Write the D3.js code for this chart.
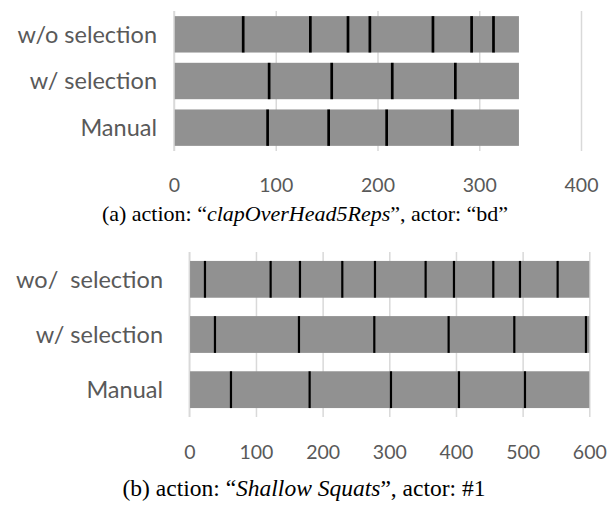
<!DOCTYPE html>
<html>
<head>
<meta charset="utf-8">
<script src="https://cdn.jsdelivr.net/npm/d3@7"></script>
<style>
  html, body { margin: 0; padding: 0; background: #fff; }
  svg { display: block; }
</style>
</head>
<body>
<svg id="fig" width="610" height="511"></svg>
<script>
// ---- Panel (a): clapOverHead5Reps, actor "bd" ----
const rowsA = ["w/o selection", "w/ selection", "Manual"];
const lengthA = [339, 339, 339];
const cutsA_wo = [68, 134, 171, 192.5, 254.5, 292.5, 314];
const cutsA_w = [93.5, 155, 214.5, 276.5];
const cutsA_manual = [92, 152, 209, 273.5];
const ticksA = [0, 100, 200, 300, 400];
const captionA = ["(a) action: \u201c", "clapOverHead5Reps", "\u201d, actor: \u201cbd\u201d"];

// ---- Panel (b): Shallow Squats, actor #1 ----
const rowsB = ["wo/  selection", "w/ selection", "Manual"];
const lengthB = [600, 600, 600];
const cutsB_wo = [23.5, 122, 166, 229.5, 278.5, 354.5, 397, 456, 496, 552.5];
const cutsB_w = [38.5, 164.5, 277.5, 389, 487.5, 595];
const cutsB_manual = [62.5, 180.5, 302.5, 404.5, 503.5];
const ticksB = [0, 100, 200, 300, 400, 500, 600];
const captionB = ["(b) action: \u201c", "Shallow Squats", "\u201d, actor: #1"];

const svg = d3.select("#fig");
const labelFont = "Lato, 'Open Sans', sans-serif";
const textGray = "#595959";

function panel(cfg) {
  const g = svg.append("g");
  const x = d3.scaleLinear().domain(cfg.domain).range(cfg.xRange);
  const y = d3.scaleBand().domain(cfg.rows).range(cfg.yRange)
    .paddingInner(cfg.padIn).paddingOuter(cfg.padOut);

  // vertical gridlines (also the tick marks under the plot)
  g.append("g")
    .attr("transform", `translate(0,${cfg.yRange[1]})`)
    .call(d3.axisBottom(x).tickValues(cfg.ticks).tickSize(-(cfg.yRange[1] - cfg.yRange[0])).tickFormat(""))
    .call(a => a.select(".domain").remove())
    .call(a => a.selectAll("line").attr("stroke", "#d9d9d9").attr("stroke-width", 1.5));

  // tick labels
  g.append("g")
    .attr("transform", `translate(0,${cfg.labelY})`)
    .call(d3.axisBottom(x).tickValues(cfg.ticks).tickSize(0).tickPadding(0))
    .call(a => a.select(".domain").remove())
    .call(a => a.selectAll("text")
      .attr("dy", "0.35em").attr("y", 0)
      .attr("fill", textGray)
      .style("font-family", labelFont).style("font-size", cfg.tickSize + "px"));

  // bars
  const rowsData = cfg.rows.map((r, i) => ({ row: r, len: cfg.lengths[i], cuts: cfg.cuts[i] }));
  g.selectAll("rect.bar").data(rowsData).join("rect")
    .attr("class", "bar")
    .attr("x", x(0))
    .attr("y", d => y(d.row))
    .attr("width", d => x(d.len) - x(0))
    .attr("height", y.bandwidth())
    .attr("fill", "#919191");

  // segment boundaries
  g.selectAll("g.cuts").data(rowsData).join("g")
    .attr("class", "cuts")
    .selectAll("line").data(d => d.cuts.map(c => ({ row: d.row, v: c }))).join("line")
    .attr("x1", d => x(d.v)).attr("x2", d => x(d.v))
    .attr("y1", d => y(d.row)).attr("y2", d => y(d.row) + y.bandwidth())
    .attr("stroke", "#000").attr("stroke-width", cfg.cutWidth);

  // y-axis line at zero
  g.append("line")
    .attr("x1", x(0)).attr("x2", x(0))
    .attr("y1", cfg.yRange[0]).attr("y2", cfg.yRange[1])
    .attr("stroke", "#d9d9d9").attr("stroke-width", 1.5);

  // category labels
  g.selectAll("text.cat").data(cfg.rows).join("text")
    .attr("class", "cat")
    .attr("x", cfg.catX)
    .attr("y", d => y(d) + y.bandwidth() / 2)
    .attr("dy", "0.35em")
    .attr("text-anchor", "end")
    .attr("fill", textGray)
    .style("font-family", labelFont).style("font-size", cfg.catSize + "px")
    .style("white-space", "pre")
    .text(d => d);

  // caption
  const cap = g.append("text")
    .attr("x", cfg.capX).attr("y", cfg.capY)
    .attr("dy", "0.35em")
    .attr("text-anchor", "middle")
    .attr("fill", "#000")
    .style("font-family", "'Liberation Serif', 'Times New Roman', serif")
    .style("font-size", cfg.capSize + "px");
  cfg.caption.forEach((part, i) => {
    cap.append("tspan").text(part).style("font-style", i === 1 ? "italic" : "normal");
  });
}

panel({
  rows: rowsA, lengths: lengthA, cuts: [cutsA_wo, cutsA_w, cutsA_manual],
  domain: [0, 400], xRange: [174, 581], yRange: [11, 151],
  padIn: 0.22, padOut: 0.11, ticks: ticksA, labelY: 185,
  catX: 157, catSize: 23.5, tickSize: 19.5, cutWidth: 2.7,
  caption: captionA, capX: 305, capY: 213, capSize: 22
});

panel({
  rows: rowsB, lengths: lengthB, cuts: [cutsB_wo, cutsB_w, cutsB_manual],
  domain: [0, 600], xRange: [189.3, 589.3], yRange: [252, 417],
  padIn: 0.333, padOut: 0.162, ticks: ticksB, labelY: 452,
  catX: 163, catSize: 23.5, tickSize: 19.5, cutWidth: 2.2,
  caption: captionB, capX: 304, capY: 488, capSize: 23.5
});
</script>
</body>
</html>
